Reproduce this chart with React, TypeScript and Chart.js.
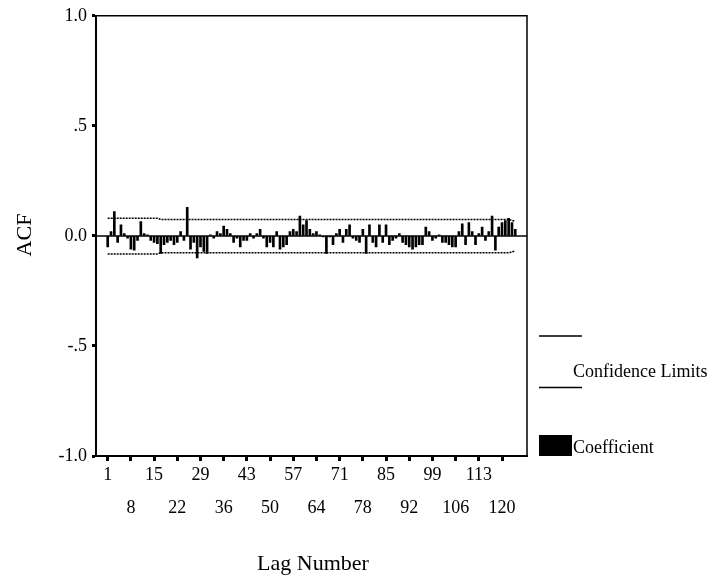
import React, { useEffect, useRef } from "react";
import { Chart, registerables } from "chart.js";

Chart.register(...registerables);

const FONT = '"Liberation Serif", "Times New Roman", serif';

// Lag numbers (categories)
const lags: number[] = Array.from({ length: 124 }, (_, i) => i + 1);

// ACF coefficient per lag
const acfValues: number[] = [
  -0.05, 0.02, 0.11, -0.03, 0.05, 0.01, -0.01, -0.06, -0.065, -0.02,
  0.065, 0.01, 0.005, -0.02, -0.03, -0.035, -0.08, -0.04, -0.03, -0.02,
  -0.04, -0.03, 0.02, -0.02, 0.13, -0.06, -0.03, -0.1, -0.05, -0.07,
  -0.08, 0.005, -0.01, 0.02, 0.01, 0.045, 0.03, 0.01, -0.03, -0.01,
  -0.05, -0.02, -0.02, 0.01, -0.01, 0.01, 0.03, -0.01, -0.05, -0.03,
  -0.05, 0.02, -0.06, -0.05, -0.04, 0.02, 0.03, 0.02, 0.09, 0.05,
  0.07, 0.03, 0.01, 0.02, 0.005, -0.005, -0.08, -0.005, -0.04, 0.01,
  0.03, -0.03, 0.03, 0.05, -0.01, -0.02, -0.03, 0.03, -0.08, 0.05,
  -0.03, -0.05, 0.05, -0.03, 0.05, -0.04, -0.02, -0.01, 0.01, -0.03,
  -0.04, -0.05, -0.06, -0.05, -0.04, -0.04, 0.04, 0.02, -0.02, -0.01,
  0.005, -0.03, -0.03, -0.04, -0.05, -0.05, 0.02, 0.055, -0.04, 0.06,
  0.02, -0.04, 0.01, 0.04, -0.02, 0.02, 0.09, -0.065, 0.04, 0.06,
  0.07, 0.08, 0.06, 0.03,
];

// Confidence limits (break points of the limit lines)
const confLags: number[] = [1, 16, 17, 122, 124];
const confUpper: number[] = [0.08, 0.08, 0.075, 0.075, 0.066];
const confLower: number[] = [-0.082, -0.082, -0.077, -0.077, -0.068];

// Axis ticks
const xTickLags: number[] = [1, 8, 15, 22, 29, 36, 43, 50, 57, 64, 71, 78, 85, 92, 99, 106, 113, 120];
const yTickValues: number[] = [-1, -0.5, 0, 0.5, 1];
const yTickLabels: string[] = ["-1.0", "-.5", "0.0", ".5", "1.0"];

const xTitle = "Lag Number";
const yTitle = "ACF";
const legendConf = "Confidence Limits";
const legendCoef = "Coefficient";

const decorPlugin = {
  id: "decor",
  beforeDatasetsDraw(chart: any) {
    const { ctx, chartArea: a, scales } = chart;
    const y0 = scales.y.getPixelForValue(0);
    ctx.save();
    ctx.strokeStyle = "#000";
    ctx.lineWidth = 1.5;
    ctx.beginPath();
    ctx.moveTo(a.left, y0);
    ctx.lineTo(a.right, y0);
    ctx.stroke();
    ctx.restore();
  },
  afterDraw(chart: any) {
    const { ctx, chartArea: a } = chart;
    ctx.save();
    ctx.strokeStyle = "#000";
    ctx.lineWidth = 1.5;
    ctx.beginPath();
    ctx.moveTo(a.left, a.top);
    ctx.lineTo(a.right, a.top);
    ctx.lineTo(a.right, a.bottom);
    ctx.stroke();

    // legend
    ctx.lineWidth = 1.5;
    ctx.beginPath();
    ctx.moveTo(539, 336);
    ctx.lineTo(582, 336);
    ctx.moveTo(539, 387.5);
    ctx.lineTo(582, 387.5);
    ctx.stroke();
    ctx.fillStyle = "#000";
    ctx.fillRect(539, 435, 33, 21);
    ctx.font = `18px ${FONT}`;
    ctx.textAlign = "left";
    ctx.textBaseline = "alphabetic";
    ctx.fillText(legendConf, 573, 376.5);
    ctx.fillText(legendCoef, 573, 452.5);

    // axis titles
    ctx.font = `22px ${FONT}`;
    ctx.textAlign = "center";
    ctx.textBaseline = "middle";
    ctx.fillText(xTitle, 313, 564);
    ctx.translate(25, 235);
    ctx.rotate(-Math.PI / 2);
    ctx.fillText(yTitle, 0, 0);
    ctx.restore();
  },
};

export default function App() {
  const ref = useRef<HTMLCanvasElement | null>(null);

  useEffect(() => {
    if (!ref.current) return;
    const chart = new Chart(ref.current, {
      type: "bar",
      data: {
        datasets: [
          {
            type: "line",
            label: "Upper",
            data: confLags.map((l, i) => ({ x: l, y: confUpper[i] })),
            borderColor: "#000",
            borderWidth: 1.5,
            borderDash: [2, 1],
            pointRadius: 0,
            fill: false,
          },
          {
            type: "line",
            label: "Lower",
            data: confLags.map((l, i) => ({ x: l, y: confLower[i] })),
            borderColor: "#000",
            borderWidth: 1.5,
            borderDash: [2, 1],
            pointRadius: 0,
            fill: false,
          },
          {
            type: "bar",
            label: "Coefficient",
            data: lags.map((l, i) => ({ x: l, y: acfValues[i] })),
            backgroundColor: "#000",
            borderWidth: 0,
            barThickness: 2,
          } as any,
        ],
      },
      options: {
        responsive: false,
        animation: false,
        layout: { padding: { left: 0, top: 13, right: 190, bottom: 0 } },
        plugins: {
          legend: { display: false },
          tooltip: { enabled: false },
        },
        scales: {
          x: {
            type: "linear",
            min: -2.53,
            max: 127.54,
            offset: false,
            afterBuildTicks: (scale: any) => {
              scale.ticks = xTickLags.map((v) => ({ value: v }));
            },
            afterFit: (scale: any) => {
              scale.height = 127;
            },
            grid: {
              offset: false,
              drawOnChartArea: false,
              drawTicks: true,
              tickLength: 5,
              tickWidth: 3,
              tickColor: "#000",
            },
            border: { display: true, color: "#000", width: 2 },
            ticks: {
              autoSkip: false,
              maxRotation: 0,
              minRotation: 0,
              padding: -2,
              color: "#000",
              font: { family: FONT, size: 18, lineHeight: "33px" },
              callback: (value: any, index: number) =>
                index % 2 === 0 ? [String(value)] : ["", String(value)],
            },
          },
          y: {
            type: "linear",
            min: -1,
            max: 1,
            afterBuildTicks: (scale: any) => {
              scale.ticks = yTickValues.map((v) => ({ value: v }));
            },
            afterFit: (scale: any) => {
              scale.width = 96;
            },
            grid: {
              drawOnChartArea: false,
              drawTicks: true,
              tickLength: 4,
              tickWidth: 3,
              tickColor: "#000",
            },
            border: { display: true, color: "#000", width: 2 },
            ticks: {
              padding: 5,
              color: "#000",
              font: { family: FONT, size: 18 },
              callback: (value: any) => {
                const i = yTickValues.indexOf(Number(value));
                return i >= 0 ? yTickLabels[i] : "";
              },
            },
          },
        },
      },
      plugins: [decorPlugin],
    });
    return () => chart.destroy();
  }, []);

  return (
    <div style={{ position: "fixed", left: 0, top: 0, width: 717, height: 583, background: "#fff" }}>
      <canvas ref={ref} width={717} height={583} style={{ display: "block", width: 717, height: 583 }} />
    </div>
  );
}
